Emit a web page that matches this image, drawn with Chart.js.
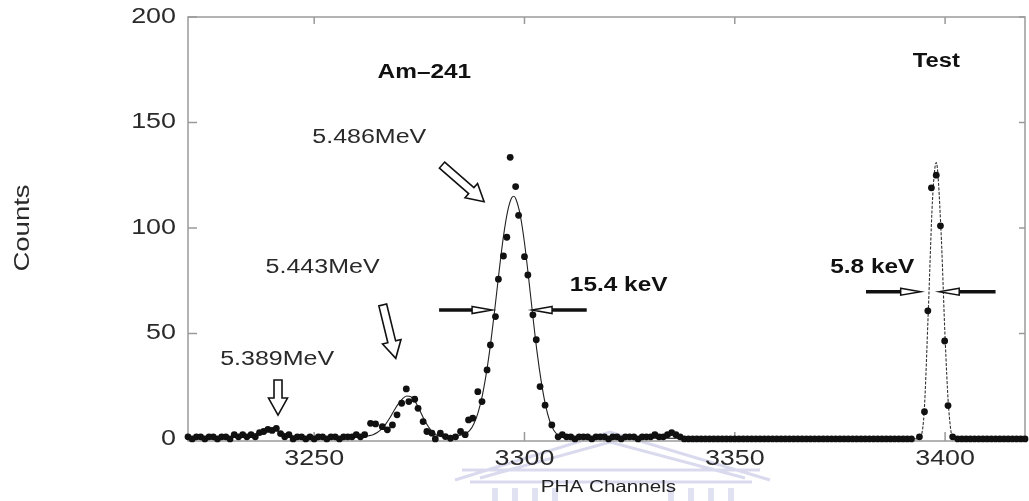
<!DOCTYPE html>
<html lang="en">
<head>
<meta charset="UTF-8">
<title>Am-241 alpha spectrum</title>
<script src="https://cdn.jsdelivr.net/npm/chart.js"></script>
<style>
  html, body { margin: 0; padding: 0; background: #fff; }
  #wrap { width: 1029px; height: 501px; position: relative; }
</style>
</head>
<body>
<div id="wrap"><canvas id="spec"></canvas></div>
<script>
const chLow = [3220,3221,3222,3223,3224,3225,3226,3227,3228,3229,3230,3231,3232,3233,3234,3235,3236,3237,3238,3239,3240,3241,3242,3243,3244,3245,3246,3247,3248,3249,3250,3251,3252,3253,3254,3255,3256,3257,3258,3259,3260,3261,3262];
const cntLow = [1,0,1,1,0,1,1,0,1,1,0,2,1,2,1,2,1,3,3.5,4.5,4,5,2.5,1,2,0,1,1,0,1,0,1,1,0,1,1,0,1,1,1,2,1,2];

const chAm = [3263.4,3264.6,3266.2,3267.4,3268.6,3269.7,3270.8,3271.9,3272.5,3273.9,3274.7,3275.9,3276.8,3278,3278.8,3280,3281.2,3282.4,3283.6,3284.8,3285.9,3286.7,3287.7,3288.9,3289.9,3291.1,3291.9,3293.1,3293.8,3295,3295.8,3296.6,3297.9,3298.6,3300,3300.8,3302,3302.8,3303.7,3304.9,3306.5];
const cntAm = [7.4,7.1,5.8,4.3,6.6,11.4,16.9,23.7,17.7,18.8,14.5,8.2,3.5,2.7,0,2.7,1.1,0.3,1,3.5,2,9,9.8,22.4,17.7,32.7,44.5,58,75.7,86.7,95.6,133.5,119.6,106,86.4,77.7,58.8,47,24.8,16,6.6];

const chMid = [3308,3309,3310,3311,3312,3313,3314,3315,3316,3317,3318,3319,3320,3321,3322,3323,3324,3325,3326,3327,3328,3329,3330,3331,3332,3333,3334,3335,3336,3337,
  3338,3339,3340,3341,3342,3343,3344,3345,3346,3347,3348,3349,3350,3351,3352,3353,3354,3355,3356,3357,3358,3359,3360,3361,3362,3363,3364,3365,3366,3367,3368,3369,3370,3371,3372,3373,3374,3375,3376,3377,3378,3379,3380,3381,3382,3383,3384,3385,3386,3387,3388,3389,3390,3391,3392];
const cntMid = [1,2,1,1,0,1,1,1,0,1,1,1,0,1,1,0,1,1,1,0,1,1,1,2,1,1,2,3,2,1,
  0,0,0,0,0,0,0,0,0,0,0,0,0,0,0,0,0,0,0,0,0,0,0,0,0,0,0,0,0,0,0,0,0,0,0,0,0,0,0,0,0,0,0,0,0,0,0,0,0,0,0,0,0,0,0];

const chTest = [3393.9,3395.1,3395.9,3396.75,3397.9,3398.9,3399.9,3400.7,3401.8];
const cntTest = [1,12.9,60.7,119,125,101,46.4,15.8,1];

const chHigh = [3403,3404,3405,3406,3407,3408,3409,3410,3411,3412,3413,3414,3415,3416,3417,3418,3419];
const cntHigh = [0,0,0,0,0,0,0,0,0,0,0,0,0,0,0,0,0];

// fitted curves
const fitCh = [3220,3226,3230,3233,3235,3237,3239,3240,3241,3243,3245,3247,3250,3255,3259,3261,3263,3264,3265,3266,3267,3268,3269,3270,3271,3272,3273,3274,3275,3276,3277,3278,3279,3280,3281,3282,3283,3284,3285,3286,3287,3288,3289,3290,3291,3292,3293,3294,3295,3296,3297,3297.5,3298,3299,3300,3301,3302,3303,3304,3305,3306,3307,3308,3309,3310,3330,3360,3393];
const fitCnt = [0.4,0.4,0.6,1,1.8,3,3.9,4.1,3.9,2.6,1.4,0.7,0.4,0.4,0.6,0.9,1.5,2,3,4.6,7,10,13.5,16.6,19,20.3,20,17.8,14,9.8,6.2,3.6,2,1.2,0.9,0.8,1,1.4,1.8,2.6,4,7.3,12.7,20.8,32,46,62.5,80,96,108,114.4,115,113.5,106,93,76,58,41,27,16,8.5,4,1.8,0.8,0.4,0.3,0.2,0.1];

const testFitCh = [3393,3394,3395,3396,3397,3397.9,3399,3400,3400.8,3401.8,3402.5,3419];
const testFitCnt = [0,0.5,12,60,113,131,100,48,16,0.5,0,0];

const xTicks = [3250, 3300, 3350, 3400];
const yTicks = [0, 50, 100, 150, 200];

function pairs(xs, ys) {
  return xs.map((x, i) => ({ x: x, y: ys[i] }));
}

const dots = [].concat(
  pairs(chLow, cntLow), pairs(chAm, cntAm), pairs(chMid, cntMid),
  pairs(chTest, cntTest), pairs(chHigh, cntHigh)
);

const FONT = '"Liberation Sans", Arial, Helvetica, sans-serif';

// text labels and arrows, placed in data coordinates
const notes = [
  { text: 'Am\u2013241', ch: 3276.2, c: 173.9, bold: true, size: 20 },
  { text: 'Test', ch: 3397.9, c: 178.7, bold: true, size: 19.5 },
  { text: '5.486MeV', ch: 3263.1, c: 142.9, bold: false, size: 20.5 },
  { text: '5.443MeV', ch: 3252.0, c: 81.3, bold: false, size: 20.5 },
  { text: '5.389MeV', ch: 3241.2, c: 37.9, bold: false, size: 20.5 },
  { text: '15.4 keV', ch: 3322.4, c: 72.6, bold: true, size: 20 },
  { text: '5.8 keV', ch: 3382.7, c: 81.3, bold: true, size: 20 }
];
const blockArrows = [
  { from: [3280.4, 129.8], to: [3290.4, 112.4] },
  { from: [3266.3, 63.5], to: [3269.4, 38.2] },
  { from: [3241.4, 27.9], to: [3241.4, 11.3] }
];
const widthArrows = [
  { from: 3279.7, to: 3292.3, c: 61.1 },
  { from: 3314.8, to: 3301.8, c: 61.1 },
  { from: 3381.2, to: 3394.2, c: 69.8 },
  { from: 3412.0, to: 3398.6, c: 69.8 }
];

function stretchText(ctx, text, x, y, font, sx, align, color, rot) {
  ctx.save();
  ctx.translate(x, y);
  if (rot) ctx.rotate(rot);
  ctx.scale(sx, 1);
  ctx.font = font;
  ctx.textAlign = align;
  ctx.textBaseline = 'middle';
  ctx.fillStyle = color;
  ctx.fillText(text, 0, 0);
  ctx.restore();
}

function drawBlockArrow(ctx, x1, y1, x2, y2) {
  const shaftW = 8, headW = 19, headL = 17;
  const ang = Math.atan2(y2 - y1, x2 - x1);
  const len = Math.hypot(x2 - x1, y2 - y1);
  ctx.save();
  ctx.translate(x1, y1);
  ctx.rotate(ang);
  ctx.beginPath();
  ctx.moveTo(0, -shaftW / 2);
  ctx.lineTo(len - headL, -shaftW / 2);
  ctx.lineTo(len - headL, -headW / 2);
  ctx.lineTo(len, 0);
  ctx.lineTo(len - headL, headW / 2);
  ctx.lineTo(len - headL, shaftW / 2);
  ctx.lineTo(0, shaftW / 2);
  ctx.closePath();
  ctx.fillStyle = '#fff';
  ctx.fill();
  ctx.lineWidth = 1.6;
  ctx.strokeStyle = '#111';
  ctx.lineJoin = 'miter';
  ctx.stroke();
  ctx.restore();
}

function drawWidthArrow(ctx, xs, xt, y) {
  const dir = Math.sign(xt - xs);
  const headL = 20;
  const base = xt - dir * headL;
  ctx.save();
  ctx.strokeStyle = '#111';
  ctx.lineWidth = 3.5;
  ctx.beginPath();
  ctx.moveTo(xs, y);
  ctx.lineTo(base + dir * 4, y);
  ctx.stroke();
  ctx.beginPath();
  ctx.moveTo(base, y - 3.5);
  ctx.lineTo(xt, y);
  ctx.lineTo(base, y + 3.5);
  ctx.closePath();
  ctx.fillStyle = '#fff';
  ctx.fill();
  ctx.lineWidth = 1.5;
  ctx.stroke();
  ctx.restore();
}

// faint repository watermark behind the lower middle of the plot
function drawWatermark(ctx) {
  ctx.save();
  ctx.strokeStyle = 'rgba(170,172,215,0.45)';
  ctx.fillStyle = 'rgba(170,172,215,0.35)';
  ctx.lineWidth = 3;
  ctx.beginPath();
  ctx.moveTo(455, 480); ctx.lineTo(610, 432); ctx.lineTo(770, 480);
  ctx.moveTo(480, 478); ctx.lineTo(610, 442); ctx.lineTo(745, 478);
  ctx.moveTo(462, 470); ctx.lineTo(760, 470);
  ctx.moveTo(470, 482); ctx.lineTo(752, 482);
  ctx.stroke();
  [492, 512, 532, 552, 668, 688, 708, 728].forEach(x => ctx.fillRect(x, 488, 6, 13));
  ctx.restore();
}

const decor = {
  id: 'decor',
  beforeDatasetsDraw(chart) {
    const ctx = chart.ctx, a = chart.chartArea;
    const xs = chart.scales.x, ys = chart.scales.y;
    drawWatermark(ctx);
    ctx.save();
    ctx.strokeStyle = '#9a9a9a';
    ctx.lineWidth = 1.5;
    ctx.strokeRect(a.left, a.top, a.right - a.left, a.bottom - a.top);
    ctx.beginPath();
    xTicks.forEach(v => {
      const px = xs.getPixelForValue(v);
      ctx.moveTo(px, a.bottom); ctx.lineTo(px, a.bottom - 9);
      ctx.moveTo(px, a.top); ctx.lineTo(px, a.top + 7);
    });
    yTicks.forEach(v => {
      const py = ys.getPixelForValue(v);
      ctx.moveTo(a.left, py); ctx.lineTo(a.left + 9, py);
      ctx.moveTo(a.right, py); ctx.lineTo(a.right - 6, py);
    });
    ctx.stroke();
    ctx.restore();
  },
  afterDatasetsDraw(chart) {
    const ctx = chart.ctx, a = chart.chartArea;
    const xs = chart.scales.x, ys = chart.scales.y;
    const tickFont = '21.5px ' + FONT;
    xTicks.forEach(v => {
      stretchText(ctx, String(v), xs.getPixelForValue(v), 459.5, tickFont, 1.25, 'center', '#2a2a2a');
    });
    yTicks.forEach(v => {
      stretchText(ctx, String(v), 176, ys.getPixelForValue(v), tickFont, 1.25, 'right', '#2a2a2a');
    });
    stretchText(ctx, 'Counts', 22.5, 228, '22px ' + FONT, 1.25, 'center', '#2a2a2a', -Math.PI / 2);
    stretchText(ctx, 'PHA Channels', (a.left + a.right) / 2 + 2, 487, '16.5px ' + FONT, 1.25, 'center', '#222');

    notes.forEach(n => {
      const f = (n.bold ? 'bold ' : '') + n.size + 'px ' + FONT;
      stretchText(ctx, n.text, xs.getPixelForValue(n.ch), ys.getPixelForValue(n.c), f, 1.22, 'center', n.bold ? '#111' : '#2a2a2a');
    });
    blockArrows.forEach(b => {
      drawBlockArrow(ctx, xs.getPixelForValue(b.from[0]), ys.getPixelForValue(b.from[1]),
        xs.getPixelForValue(b.to[0]), ys.getPixelForValue(b.to[1]));
    });
    widthArrows.forEach(w => {
      drawWidthArrow(ctx, xs.getPixelForValue(w.from), xs.getPixelForValue(w.to), ys.getPixelForValue(w.c));
    });
  }
};

new Chart(document.getElementById('spec'), {
  type: 'scatter',
  data: {
    datasets: [
      {
        label: 'Data',
        data: dots,
        showLine: false,
        pointRadius: 3.4,
        pointBorderWidth: 0,
        pointBackgroundColor: '#111',
        clip: 6
      },
      {
        label: 'Fit',
        data: pairs(fitCh, fitCnt),
        showLine: true,
        pointRadius: 0,
        borderColor: '#222',
        borderWidth: 1.1,
        cubicInterpolationMode: 'monotone'
      },
      {
        label: 'Fit test',
        data: pairs(testFitCh, testFitCnt),
        showLine: true,
        pointRadius: 0,
        borderColor: '#333',
        borderWidth: 1.1,
        borderDash: [3, 1.5],
        cubicInterpolationMode: 'monotone'
      }
    ]
  },
  options: {
    responsive: true,
    maintainAspectRatio: false,
    animation: false,
    events: [],
    layout: { padding: { left: 188, top: 17, right: 1, bottom: 60 } },
    plugins: { legend: { display: false }, tooltip: { enabled: false } },
    scales: {
      x: { type: 'linear', min: 3220, max: 3419, display: false },
      y: { type: 'linear', min: -1, max: 200, display: false }
    }
  },
  plugins: [decor]
});
</script>
</body>
</html>
